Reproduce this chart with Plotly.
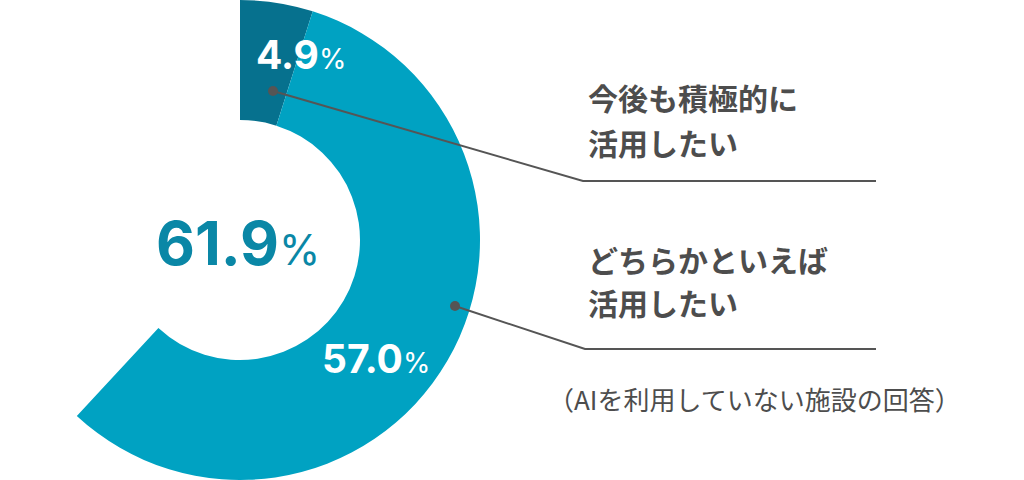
import plotly.graph_objects as go

W, H = 1024, 480

# Data
categories = ["今後も積極的に活用したい", "どちらかといえば活用したい", "その他"]
values = [4.9, 57.0, 38.1]
slice_labels = ["4.9", "57.0"]
total_label = "61.9"
label_lines = [["今後も積極的に", "活用したい"], ["どちらかといえば", "活用したい"]]
note = "（AIを利用していない施設の回答）"

DARK = "#06718E"
LIGHT = "#00A2C2"
CENTER = "#0A87A6"
GRAY = "#4D4D4D"
LINE = "#555555"

def px(x):
    return x / W

def py(y):
    return 1 - y / H

fig = go.Figure()
fig.add_trace(go.Pie(
    labels=categories,
    values=values,
    hole=0.5,
    sort=False,
    direction="clockwise",
    rotation=0,
    marker=dict(colors=[DARK, LIGHT, "rgba(0,0,0,0)"], line=dict(width=0)),
    textinfo="none",
    hoverinfo="skip",
    showlegend=False,
    domain=dict(x=[0, 480 / W], y=[0, 1]),
))

ann = []
num_font = "Inter, Roboto, Arial, sans-serif"
jp_font = "Noto Sans CJK JP, sans-serif"

def pct(num, small):
    return f"<b>{num}</b><span style='font-size:{small}px'>%</span>"

ann.append(dict(x=px(254), y=py(54), xref="paper", yref="paper", xanchor="left", yanchor="middle",
                text=pct(slice_labels[0], 28), showarrow=False,
                font=dict(family=num_font, size=39, color="white")))
ann.append(dict(x=px(320), y=py(358), xref="paper", yref="paper", xanchor="left", yanchor="middle",
                text=pct(slice_labels[1], 28), showarrow=False,
                font=dict(family=num_font, size=39, color="white")))
ann.append(dict(x=px(154), y=py(243), xref="paper", yref="paper", xanchor="left", yanchor="middle",
                text=pct(total_label, 42), showarrow=False,
                font=dict(family=num_font, size=60, color=CENTER)))

label_y = [[97, 142], [259, 302]]
for lines, ys in zip(label_lines, label_y):
    for t, yy in zip(lines, ys):
        ann.append(dict(x=px(586), y=py(yy), xref="paper", yref="paper", xanchor="left", yanchor="middle",
                        text=f"<b>{t}</b>", showarrow=False,
                        font=dict(family=jp_font, size=30, color=GRAY)))

ann.append(dict(x=px(546), y=py(398), xref="paper", yref="paper", xanchor="left", yanchor="middle",
                text=note, showarrow=False,
                font=dict(family=jp_font, size=26, color=GRAY)))

shapes = []
leaders = [((273, 91), (583, 181), (876, 181)), ((455, 306), (585, 349), (876, 349))]
for (d, k, e) in leaders:
    shapes.append(dict(type="path", xref="paper", yref="paper",
                       path=f"M {px(d[0])} {py(d[1])} L {px(k[0])} {py(k[1])} L {px(e[0])} {py(e[1])}",
                       line=dict(color=LINE, width=2)))
    r = 5
    shapes.append(dict(type="circle", xref="paper", yref="paper",
                       x0=px(d[0] - r), x1=px(d[0] + r), y0=py(d[1] + r), y1=py(d[1] - r),
                       fillcolor=LINE, line=dict(width=0)))

fig.update_layout(
    width=W, height=H,
    margin=dict(l=0, r=0, t=0, b=0),
    paper_bgcolor="white",
    plot_bgcolor="white",
    annotations=ann,
    shapes=shapes,
)

fig.write_html("out.html", config={"displayModeBar": False},
               post_script="document.body.style.margin='0';")
